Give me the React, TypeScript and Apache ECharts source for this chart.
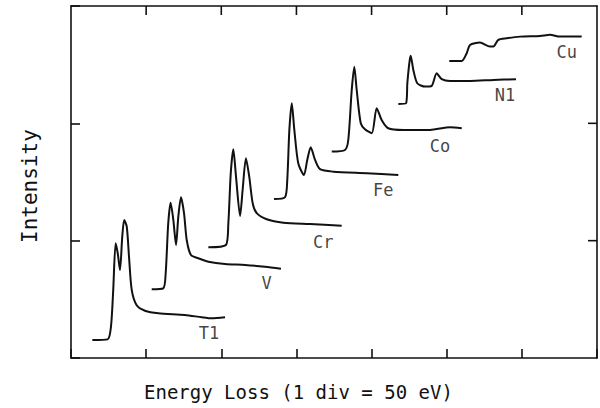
import React, { useEffect, useRef } from "react";
import * as echarts from "echarts";

// Energy loss in eV (1 division = 50 eV), intensity in vertical divisions (offset spectra)
const tiX = [14.2, 24.4, 26.6, 28.1, 29.7, 31.1, 32.6, 34.1, 35.4, 37.1, 38.6, 40.4, 43.7, 49.2, 58.1, 75.8, 87.0, 93.6, 102.5];
const tiY = [0.153, 0.159, 0.267, 0.58, 0.978, 0.893, 0.75, 1.034, 1.176, 1.119, 0.864, 0.58, 0.449, 0.403, 0.381, 0.367, 0.347, 0.338, 0.347];

const vX = [53.7, 61.4, 63.0, 64.7, 66.3, 68.1, 69.9, 71.4, 73.2, 75.2, 77.0, 79.8, 84.7, 91.4, 102.5, 115.8, 129.1, 139.7];
const vY = [0.586, 0.594, 0.722, 1.148, 1.324, 1.176, 0.963, 1.205, 1.37, 1.234, 1.006, 0.878, 0.85, 0.821, 0.801, 0.793, 0.778, 0.761];

const crX = [91.4, 103.1, 104.7, 106.3, 108.0, 109.8, 112.5, 114.2, 116.4, 118.6, 120.9, 123.6, 130.2, 141.3, 159.0, 180.1];
const crY = [0.944, 0.963, 1.148, 1.575, 1.779, 1.546, 1.211, 1.432, 1.702, 1.546, 1.319, 1.234, 1.182, 1.153, 1.142, 1.128];

const feX = [135.1, 142.4, 143.9, 145.3, 146.9, 148.6, 151.2, 155.0, 157.2, 159.5, 162.4, 165.7, 174.5, 196.8, 217.8];
const feY = [1.355, 1.37, 1.517, 1.944, 2.171, 1.944, 1.66, 1.56, 1.688, 1.796, 1.688, 1.609, 1.588, 1.575, 1.56];

const coX = [173.5, 182.3, 184.5, 186.8, 188.5, 190.1, 192.8, 195.6, 200.1, 203.4, 206.7, 211.1, 221.1, 238.9, 252.2, 260.0];
const coY = [1.759, 1.773, 1.858, 2.285, 2.483, 2.285, 2.001, 1.95, 1.916, 2.129, 2.029, 1.958, 1.944, 1.944, 1.967, 1.958];

const niX = [217.8, 222.9, 223.8, 225.1, 226.0, 227.8, 230.4, 235.6, 240.0, 243.3, 246.7, 252.2, 265.5, 281.0, 296.1];
const niY = [2.165, 2.171, 2.342, 2.512, 2.575, 2.455, 2.342, 2.313, 2.319, 2.427, 2.376, 2.361, 2.361, 2.37, 2.376];

const cuX = [251.7, 260.0, 263.3, 265.5, 272.1, 278.8, 281.0, 284.3, 289.9, 298.8, 312.1, 318.7, 325.4, 339.8];
const cuY = [2.532, 2.532, 2.598, 2.668, 2.688, 2.654, 2.654, 2.711, 2.725, 2.739, 2.745, 2.754, 2.739, 2.739];

const labelNames = ["T1", "V", "Cr", "Fe", "Co", "N1", "Cu"];
const labelX = [91.8, 130.2, 167.9, 207.8, 245.5, 288.8, 329.8];
const labelY = [0.213, 0.637, 0.991, 1.432, 1.807, 2.242, 2.611];

// tick values on the top and right frame edges
const topTicks = [50, 100, 150, 200, 250, 300];
const rightTicks = [1, 2];

const xTitle = "Energy Loss (1 div = 50 eV)";
const yTitle = "Intensity";

const FONT = "DejaVu Sans Mono";
const X_MIN = 0, X_MAX = 350, Y_MIN = 0, Y_MAX = 3;

function zip(xs: number[], ys: number[]) {
  return xs.map((x, i) => [x, ys[i]]);
}

export default function App() {
  const ref = useRef<HTMLDivElement>(null);
  useEffect(() => {
    if (!ref.current) return;
    const chart = echarts.init(ref.current, null, { renderer: "svg" });
    const spectra = [
      zip(tiX, tiY), zip(vX, vY), zip(crX, crY), zip(feX, feY),
      zip(coX, coY), zip(niX, niY), zip(cuX, cuY),
    ];
    const mkAxis = (min: number, max: number, interval: number, position: string, ticks: boolean) => ({
      type: "value",
      min,
      max,
      interval,
      position,
      axisLine: { show: true, onZero: false, lineStyle: { color: "#111", width: 1.6 } },
      axisTick: { show: ticks, inside: true, length: 9, lineStyle: { color: "#111", width: 1.6 } },
      axisLabel: { show: false },
      splitLine: { show: false },
    });
    // frame tick data: [x, y, direction] (0 = top edge, pointing down; 1 = right edge, pointing left)
    const frameTickData = [
      ...topTicks.map((t) => [t, Y_MAX, 0]),
      ...rightTicks.map((t) => [X_MAX, t, 1]),
    ];
    chart.setOption({
      animation: false,
      backgroundColor: "#fff",
      grid: { left: 71, right: 3, top: 6, bottom: 50, containLabel: false },
      xAxis: [
        mkAxis(X_MIN, X_MAX, 50, "bottom", true),
        mkAxis(X_MIN, X_MAX, 50, "top", false),
      ],
      yAxis: [
        mkAxis(Y_MIN, Y_MAX, 1, "left", true),
        mkAxis(Y_MIN, Y_MAX, 1, "right", false),
      ],
      series: [
        ...spectra.map((d) => ({
          type: "line",
          data: d,
          showSymbol: false,
          symbol: "none",
          smooth: 0.25,
          lineStyle: { color: "#111", width: 2 },
          silent: true,
        })),
        {
          type: "custom",
          data: frameTickData,
          silent: true,
          clip: false,
          z: 10,
          renderItem: (params: any, api: any) => {
            const p = api.coord([api.value(0), api.value(1)]);
            const dir = api.value(2);
            const shape = dir === 0
              ? { x1: p[0], y1: p[1], x2: p[0], y2: p[1] + 9 }
              : { x1: p[0], y1: p[1], x2: p[0] - 9, y2: p[1] };
            return { type: "line", shape, style: { stroke: "#111", lineWidth: 1.6 } };
          },
        },
        {
          type: "scatter",
          data: labelX.map((x, i) => [x, labelY[i], labelNames[i]]),
          symbolSize: 0,
          silent: true,
          label: {
            show: true,
            position: "inside",
            formatter: (p: any) => p.value[2],
            color: "#111",
            fontFamily: FONT,
            fontSize: 17,
          },
        },
      ],
      graphic: [
        {
          type: "text",
          left: 144,
          top: 382,
          style: { text: xTitle, fontFamily: FONT, fontSize: 19, fill: "#111" },
        },
        {
          type: "text",
          x: 19,
          y: 243,
          rotation: Math.PI / 2,
          style: { text: yTitle, fontFamily: FONT, fontSize: 21, fill: "#111" },
        },
      ],
    });
    return () => chart.dispose();
  }, []);
  return <div ref={ref} style={{ position: "fixed", left: 0, top: 0, width: 600, height: 408 }} />;
}
